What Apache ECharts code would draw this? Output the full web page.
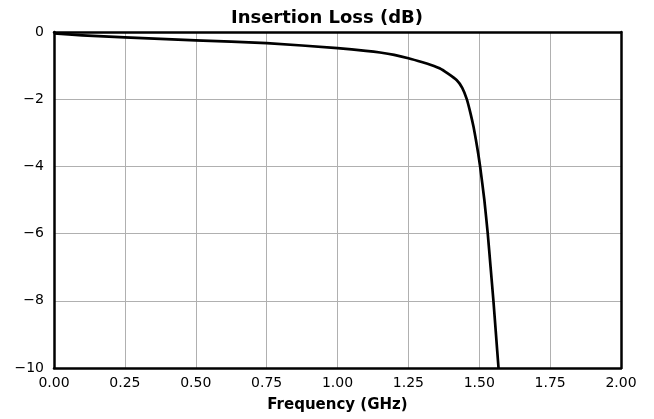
<!DOCTYPE html>
<html>
<head>
<meta charset="utf-8">
<script src="https://cdn.jsdelivr.net/npm/echarts@6/dist/echarts.min.js"></script>
<style>html,body{margin:0;padding:0;background:#fff}#c{width:654px;height:419px}</style>
</head>
<body>
<div id="c"></div>
<script>
const freqGHz = [0.00, 0.10, 0.25, 0.50, 0.75, 1.00, 1.10, 1.15, 1.20, 1.25, 1.30, 1.33, 1.36, 1.39, 1.42, 1.44, 1.456, 1.47, 1.480, 1.488, 1.496, 1.503, 1.518, 1.530, 1.540, 1.550, 1.559, 1.568];
const lossDb  = [-0.04, -0.10, -0.16, -0.25, -0.33, -0.48, -0.56, -0.61, -0.68, -0.78, -0.90, -0.98, -1.08, -1.24, -1.43, -1.66, -2.00, -2.45, -2.83, -3.20, -3.60, -4.00, -5.00, -6.00, -7.00, -8.00, -9.00, -10.00];
const xTicks = [0, 0.25, 0.5, 0.75, 1.0, 1.25, 1.5, 1.75, 2.0];
const yTicks = [-10, -8, -6, -4, -2, 0];
const titleText = 'Insertion Loss (dB)';
const xName = 'Frequency (GHz)';

const font = 'DejaVu Sans';
const chart = echarts.init(document.getElementById('c'));
const frame = {show: true, onZero: false, lineStyle: {color: '#000', width: 2.5}};
chart.setOption({
  animation: false,
  title: {text: titleText, left: 'center', top: 4,
    textStyle: {fontFamily: font, fontWeight: 'bold', fontSize: 18, color: '#000'}},
  grid: {left: 54, right: 33, top: 32, bottom: 51},
  xAxis: [{
    type: 'value', min: 0, max: 2, interval: 0.25,
    name: xName, nameLocation: 'middle', nameGap: 30,
    nameTextStyle: {fontFamily: font, fontWeight: 'bold', fontSize: 15, color: '#000'},
    axisLine: frame, axisTick: {show: false},
    axisLabel: {fontFamily: font, fontSize: 14, color: '#000', margin: 8,
      formatter: v => v.toFixed(2)},
    splitLine: {show: true, lineStyle: {color: '#b0b0b0', width: 1}}
  }, {
    type: 'value', min: 0, max: 2, position: 'top',
    axisLine: frame, axisTick: {show: false}, axisLabel: {show: false}, splitLine: {show: false}
  }],
  yAxis: [{
    type: 'value', min: -10, max: 0, interval: 2,
    axisLine: frame, axisTick: {show: false},
    axisLabel: {fontFamily: font, fontSize: 14, color: '#000', margin: 10,
      formatter: v => v < 0 ? '\u2212' + Math.abs(v) : String(v)},
    splitLine: {show: true, lineStyle: {color: '#b0b0b0', width: 1}}
  }, {
    type: 'value', min: -10, max: 0, position: 'right',
    axisLine: frame, axisTick: {show: false}, axisLabel: {show: false}, splitLine: {show: false}
  }],
  series: [{
    type: 'line', smooth: 0.15, showSymbol: false, clip: true,
    data: freqGHz.map((f, i) => [f, lossDb[i]]),
    lineStyle: {color: '#000', width: 2.7, join: 'round'}
  }]
});
</script>
</body>
</html>
